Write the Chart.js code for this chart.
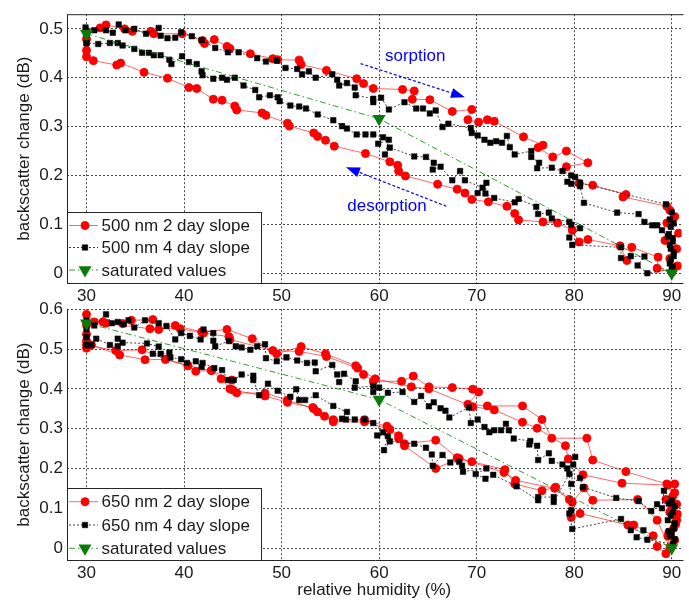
<!DOCTYPE html>
<html lang="en">
<head>
<meta charset="UTF-8">
<title>Backscatter change vs relative humidity</title>
<script src="https://cdn.jsdelivr.net/npm/chart.js"></script>
<style>
  body { margin: 0; background: #fff; }
  #wrap { position: relative; width: 689px; height: 601px; overflow: hidden; }
  canvas { position: absolute; left: 0; }
  #top500 { top: 0; }
  #bottom650 { top: 295px; }
</style>
</head>
<body>
<div id="wrap">
  <canvas id="top500" width="689" height="310" style="width:689px;height:310px"></canvas>
  <canvas id="bottom650" width="689" height="306" style="width:689px;height:306px"></canvas>
</div>
<script>
// axis ticks
const xTicks = [30, 40, 50, 60, 70, 80, 90];
const yTicks500 = [0, 0.1, 0.2, 0.3, 0.4, 0.5];
const yTicks650 = [0, 0.1, 0.2, 0.3, 0.4, 0.5, 0.6];

// saturated values (RH 30, 60, 90)
const satRH = [30, 60, 90];
const sat500 = [0.49, 0.316, 0.0];
const sat650 = [0.565, 0.373, 0.0];

// 500 nm, 2 day slope: [RH, dB] in measurement order (null = gap)
const red500 = [
  [30.0,0.456],[30.0,0.479],[30.0,0.495],[31.4,0.502],[32.0,0.508],[33.9,0.500],[34.7,0.495],[36.6,0.495],
  [36.9,0.490],[39.8,0.490],[41.9,0.476],[42.1,0.470],[43.1,0.478],[44.4,0.464],[44.7,0.460],[46.8,0.449],
  [49.1,0.439],[49.6,0.437],[51.8,0.436],[52.0,0.427],[54.6,0.415],[57.7,0.398],[58.4,0.388],[59.4,0.378],
  [62.4,0.376],[63.6,0.373],[63.4,0.356],[65.2,0.355],[67.5,0.331],[69.5,0.335],[69.1,0.314],[70.2,0.309],
  [71.1,0.314],[71.8,0.311],[74.8,0.279],[76.8,0.262],[76.3,0.257],[77.8,0.238],[79.2,0.250],[81.4,0.226],
  [79.2,0.218],[80.5,0.184],[81.9,0.180],[85.3,0.161],[85.0,0.156],[89.5,0.137],[89.8,0.129],[90.3,0.116],
  [89.5,0.103],[90.7,0.082],[89.3,0.067],[90.5,0.050],[89.8,0.030],[90.6,0.015],[90.0,0.002],
  [88.5,0.010],[88.6,0.033],[85.9,0.053],[85.4,0.026],[84.7,0.056],[81.4,0.069],[80.5,0.064],[79.8,0.088],
  [78.3,0.103],[76.8,0.105],[74.3,0.109],[73.9,0.122],[73.1,0.137],[71.2,0.146],[69.5,0.151],[68.8,0.164],
  [68.0,0.172],[66.0,0.182],[62.7,0.199],[62.0,0.209],[61.9,0.221],[61.1,0.228],[58.6,0.245],[55.4,0.260],
  [54.5,0.272],[53.7,0.280],[53.3,0.287],[50.8,0.301],[50.6,0.307],[48.4,0.323],[48.0,0.328],[45.4,0.334],
  [45.2,0.342],[43.9,0.354],[43.0,0.356],[41.3,0.378],[40.5,0.380],[38.3,0.399],[35.9,0.411],[33.5,0.430],
  [33.1,0.426],[30.7,0.435],[30.0,0.443]
];

// 500 nm, 4 day slope
const blk500 = [
  [30.0,0.471],[30.0,0.488],[29.9,0.503],[30.8,0.497],[32.0,0.497],[32.7,0.492],[33.3,0.509],[34.0,0.497],
  [34.9,0.500],[36.1,0.490],[37.4,0.502],[37.6,0.486],[38.3,0.481],[39.1,0.482],[39.7,0.493],[40.8,0.485],
  [41.8,0.477],[43.2,0.461],[44.5,0.452],[45.6,0.452],[47.5,0.440],[48.4,0.433],[49.5,0.435],[50.4,0.420],
  [51.6,0.418],[52.1,0.407],[52.8,0.413],[53.5,0.400],[55.2,0.407],[55.7,0.396],[55.9,0.384],[56.7,0.389],
  [57.5,0.380],[57.6,0.364],[59.4,0.357],[59.4,0.350],[60.2,0.359],[61.0,0.335],[62.6,0.350],[63.8,0.337],
  [64.5,0.337],[65.2,0.327],[65.8,0.333],[66.5,0.299],[67.1,0.306],[69.4,0.297],[69.5,0.287],[70.1,0.282],
  [70.8,0.273],[71.4,0.267],[72.0,0.270],[72.6,0.267],[73.1,0.281],[73.4,0.258],[73.9,0.243],[75.6,0.250],
  [75.6,0.238],[76.4,0.226],[76.2,0.215],[77.7,0.216],[78.8,0.209],[79.7,0.200],[80.1,0.197],[80.6,0.185],
  [89.4,0.141],[90.0,0.125],[89.8,0.110],[90.2,0.102],[89.9,0.095],[89.7,0.080],[90.1,0.072],[90.1,0.065],
  [89.8,0.058],[89.9,0.050],[90.2,0.043],[90.2,0.035],[89.9,0.028],[89.8,0.020],[90.1,0.014],[90.0,0.008],
  [87.5,0.000],[86.5,0.016],[87.2,0.034],[85.8,0.035],[84.8,0.031],[84.8,0.053],[79.8,0.058],[79.5,0.073],
  [80.6,0.092],[79.7,0.099],[79.5,0.105],[77.7,0.112],[77.4,0.124],[76.3,0.121],[76.1,0.136],[74.3,0.152],
  [73.9,0.145],[71.8,0.154],[70.9,0.163],[71.0,0.185],[70.1,0.164],[70.6,0.175],[68.8,0.190],[68.3,0.209],
  [67.5,0.190],[66.3,0.218],[65.5,0.212],[65.6,0.226],[64.8,0.238],[63.6,0.239],[61.1,0.257],[60.6,0.243],
  [61.0,0.273],[59.9,0.265],[60.4,0.278],[59.4,0.284],[58.6,0.284],[57.7,0.284],[56.7,0.296],[56.2,0.301],
  [55.3,0.313],[53.7,0.325],[52.5,0.337],[51.8,0.341],[50.9,0.343],[49.8,0.352],[49.6,0.360],[48.8,0.364],
  [47.7,0.360],[47.3,0.375],[46.1,0.384],[45.2,0.400],[44.4,0.396],[43.9,0.400],[43.0,0.398],[41.9,0.405],
  [41.8,0.413],[41.3,0.428],[40.5,0.432],[39.8,0.444],[38.7,0.428],[38.5,0.437],[37.6,0.446],[36.9,0.446],
  [36.4,0.451],[35.7,0.451],[34.9,0.459],[33.7,0.466],[33.2,0.471],[32.4,0.471],[31.2,0.469],[30.0,0.471],
  null,
  [79.3,0.187],[79.7,0.183],[80.6,0.178],[81.0,0.144],[84.4,0.124],[86.6,0.121],[87.2,0.105],[88.0,0.098],
  [88.5,0.098],[89.0,0.088],[89.6,0.075]
];

// 650 nm, 2 day slope
const red650 = [
  [30.0,0.502],[30.0,0.537],[30.0,0.587],[30.8,0.568],[31.7,0.568],[33.7,0.564],[34.6,0.572],[36.8,0.574],
  [37.4,0.549],[39.1,0.559],[41.8,0.543],[44.4,0.549],[47.0,0.526],[49.5,0.488],[52.0,0.506],[54.5,0.488],
  [57.6,0.458],[58.4,0.436],[59.4,0.419],[62.3,0.419],[63.5,0.432],[65.1,0.405],[67.5,0.403],[69.6,0.399],
  [70.2,0.392],[69.1,0.361],[71.1,0.357],[74.7,0.357],[76.7,0.323],[77.7,0.276],[81.3,0.276],[81.9,0.221],
  [85.3,0.192],[89.5,0.161],[90.3,0.161],[90.3,0.139],[89.4,0.122],[90.5,0.110],[89.8,0.090],[90.4,0.060],
  [89.7,0.040],[90.3,0.020],[89.4,-0.014],
  [88.5,0.004],[88.1,0.031],[86.1,0.058],[85.5,0.058],[80.6,0.087],[79.7,0.077],[79.5,0.122],[78.1,0.153],
  [76.7,0.144],[73.9,0.161],[72.9,0.197],[69.5,0.217],[68.2,0.225],[65.8,0.200],[62.6,0.257],[62.0,0.275],
  [61.1,0.298],[58.5,0.317],[55.3,0.317],[54.4,0.331],[53.7,0.342],[53.2,0.353],[50.6,0.366],[48.3,0.382],
  [45.0,0.397],[44.7,0.400],[43.8,0.425],[42.8,0.446],[41.2,0.444],[40.4,0.458],[38.1,0.474],[36.0,0.473],
  [33.4,0.485],[30.5,0.510],[30.0,0.520],
  [30.0,0.560],[32.0,0.565],[36.5,0.551],[39.6,0.551],[42.0,0.540],[44.6,0.531],[44.7,0.524],[49.1,0.496],
  [51.8,0.494],[54.6,0.481],[57.8,0.452],[59.6,0.425],[63.3,0.405],[65.1,0.400],[69.6,0.355],[71.8,0.347],
  [74.7,0.316],[76.2,0.301],[79.1,0.257],[79.4,0.224],[80.9,0.184],[84.9,0.163],[89.6,0.158],[90.1,0.130],
  [90.6,0.085],[90.0,0.100],[90.5,0.070],[90.2,0.050],[89.6,0.030],[89.8,0.000],
  [88.5,0.070],[86.5,0.122],[81.9,0.120],[81.0,0.151],[79.8,0.115],[78.0,0.150],[74.0,0.170],[72.8,0.190],
  [68.0,0.227],[65.8,0.271],[62.6,0.262],[62.0,0.282],[60.8,0.306],[58.5,0.322],[55.3,0.322],[53.3,0.350],
  [50.6,0.372],[48.3,0.389],[45.4,0.390],[44.9,0.422],[42.8,0.446],[40.4,0.458],[38.1,0.474],[35.7,0.498],
  [33.0,0.496],[30.0,0.510]
];

// 650 nm, 4 day slope
const blk650 = [
  [30.0,0.510],[30.0,0.530],[30.0,0.550],[30.0,0.572],[30.8,0.559],[32.0,0.587],[32.6,0.565],[33.2,0.568],
  [33.8,0.562],[34.3,0.572],[34.9,0.554],[36.0,0.572],[37.4,0.565],[38.2,0.558],[39.1,0.524],[39.7,0.540],
  [40.6,0.533],[41.7,0.524],[42.0,0.549],[43.0,0.540],[43.0,0.521],[43.2,0.507],[44.6,0.520],[45.3,0.507],
  [45.9,0.504],[46.8,0.498],[47.5,0.507],[48.3,0.512],[48.4,0.477],[49.5,0.469],[50.5,0.479],[51.6,0.471],
  [52.6,0.465],[53.4,0.466],[53.5,0.444],[55.2,0.460],[55.7,0.436],[55.9,0.417],[56.4,0.438],[57.6,0.419],
  [57.5,0.403],[59.4,0.407],[59.4,0.392],[60.0,0.403],[60.9,0.390],[62.4,0.392],[63.6,0.367],[64.3,0.382],
  [65.1,0.356],[65.6,0.366],[66.3,0.351],[66.8,0.345],[67.2,0.328],[69.2,0.353],[69.4,0.314],[70.1,0.323],
  [70.8,0.304],[71.3,0.291],[71.8,0.296],[72.5,0.296],[73.0,0.312],[73.3,0.296],[73.8,0.275],[75.5,0.269],
  [75.4,0.260],[76.2,0.257],[76.3,0.221],[77.4,0.238],[77.7,0.219],[78.8,0.210],[79.3,0.200],[79.9,0.210],
  [80.1,0.229],[79.7,0.161],[80.6,0.176],[80.9,0.153],[84.3,0.126],[86.6,0.118],[87.9,0.093],[88.5,0.110],
  [89.0,0.100],[89.2,0.144],[90.0,0.120],[89.7,0.112],[90.3,0.105],[90.1,0.090],[89.9,0.082],[89.6,0.070],
  [90.3,0.062],[90.2,0.050],[89.7,0.042],[90.0,0.036],[89.8,0.030],[90.3,0.022],[90.1,0.010],
  [87.5,0.021],[86.4,0.027],[87.1,0.045],[85.8,0.045],[84.8,0.073],[79.8,0.048],[79.5,0.087],[79.7,0.095],
  [79.5,0.186],[77.9,0.116],[77.9,0.128],[76.3,0.128],[76.3,0.120],[74.1,0.155],[71.7,0.184],[70.9,0.174],
  [69.9,0.186],[71.0,0.200],[68.6,0.192],[68.5,0.207],[68.2,0.217],[67.3,0.215],[66.5,0.234],[65.5,0.207],
  [65.4,0.235],[64.8,0.252],[63.6,0.262],[61.1,0.268],[60.5,0.246],[60.9,0.281],[59.8,0.283],[60.4,0.291],
  [59.4,0.314],[58.5,0.323],[57.5,0.323],[56.6,0.323],[56.2,0.325],[56.7,0.342],[55.3,0.357],[53.5,0.384],
  [52.4,0.372],[51.8,0.372],[51.5,0.399],[50.9,0.380],[49.6,0.395],[48.6,0.413],[47.7,0.384],[47.1,0.422],
  [47.1,0.433],[45.9,0.436],[45.1,0.422],[44.5,0.422],[43.9,0.447],[43.1,0.452],[41.9,0.465],[41.8,0.455],
  [41.2,0.469],[40.3,0.465],[39.7,0.474],[38.6,0.479],[38.5,0.491],[37.6,0.488],[36.8,0.488],[37.4,0.506],
  [36.2,0.514],[33.7,0.516],[33.2,0.526],[33.2,0.507],[32.4,0.510],[31.0,0.526],[30.5,0.510],[30.0,0.510]
];

const FONT = "'Liberation Sans', Arial, sans-serif";
const INK = '#1a1a1a';

function toPoints(list) {
  return list.map(p => p ? { x: p[0], y: p[1] } : { x: null, y: null });
}

const redStyle = {
  showLine: true, borderColor: 'rgba(255,0,0,0.6)', borderWidth: 1,
  pointStyle: 'circle', pointRadius: 4, pointBorderWidth: 1,
  pointBackgroundColor: '#ff0000', pointBorderColor: '#ff0000', order: 3
};
const blackStyle = {
  showLine: true, borderColor: 'rgba(0,0,0,0.75)', borderWidth: 1, borderDash: [2, 2],
  pointStyle: 'rect', pointRadius: 3.9, pointBorderWidth: 0.5,
  pointBackgroundColor: '#000', pointBorderColor: '#000', order: 2
};
const greenStyle = {
  showLine: true, borderColor: 'rgba(0,128,0,0.8)', borderWidth: 1, borderDash: [6, 3, 1.5, 3],
  pointStyle: 'triangle', pointRotation: 180, pointRadius: 7.5, pointBorderWidth: 0,
  pointBackgroundColor: '#0a7a0a', pointBorderColor: '#0a7a0a', order: 1
};

// axes box, legend and sorption/desorption arrows
const framePlugin = {
  id: 'frame',
  afterDraw(chart, args, opts) {
    const ctx = chart.ctx;
    const a = chart.chartArea;
    const xs = chart.scales.x, ys = chart.scales.y;
    ctx.save();

    // axes lines
    ctx.strokeStyle = '#262626';
    ctx.lineWidth = 1;
    ctx.setLineDash([]);
    ctx.beginPath();
    if (opts.topLine) {
      ctx.moveTo(a.left + 0.5, a.top + 0.5);
      ctx.lineTo(a.right + 2, a.top + 0.5);
    }
    ctx.moveTo(a.left + 0.5, a.top);
    ctx.lineTo(a.left + 0.5, a.bottom + 0.5);
    ctx.lineTo(a.right + 2, a.bottom + 0.5);
    ctx.stroke();

    // arrows
    (opts.arrows || []).forEach(ar => {
      const x0 = xs.getPixelForValue(ar.from[0]), y0 = ys.getPixelForValue(ar.from[1]);
      const x1 = xs.getPixelForValue(ar.to[0]), y1 = ys.getPixelForValue(ar.to[1]);
      const ang = Math.atan2(y1 - y0, x1 - x0);
      const head = 14, half = 5;
      const bx = x1 - head * Math.cos(ang), by = y1 - head * Math.sin(ang);
      ctx.strokeStyle = '#0000ff';
      ctx.fillStyle = '#0000ff';
      ctx.lineWidth = 1.2;
      ctx.setLineDash([3, 2]);
      ctx.beginPath();
      ctx.moveTo(x0, y0);
      ctx.lineTo(bx, by);
      ctx.stroke();
      ctx.setLineDash([]);
      ctx.beginPath();
      ctx.moveTo(x1, y1);
      ctx.lineTo(bx + half * Math.sin(ang), by - half * Math.cos(ang));
      ctx.lineTo(bx - half * Math.sin(ang), by + half * Math.cos(ang));
      ctx.closePath();
      ctx.fill();
    });
    (opts.notes || []).forEach(n => {
      ctx.fillStyle = '#0000ff';
      ctx.font = '17px ' + FONT;
      ctx.textAlign = 'center';
      ctx.textBaseline = 'middle';
      ctx.fillText(n.text, xs.getPixelForValue(n.at[0]), ys.getPixelForValue(n.at[1]));
    });

    // legend box in the lower left corner
    const lg = opts.legend;
    if (lg) {
      const top = a.bottom - lg.height;
      ctx.fillStyle = '#fff';
      ctx.fillRect(a.left, top, lg.width, lg.height);
      ctx.strokeStyle = '#262626';
      ctx.lineWidth = 1;
      ctx.strokeRect(a.left + 0.5, top + 0.5, lg.width, lg.height);
      lg.labels.forEach((text, i) => {
        const ds = chart.data.datasets[lg.order[i]];
        const y = a.bottom - lg.rows[i];
        ctx.strokeStyle = ds.borderColor;
        ctx.lineWidth = ds.borderWidth;
        ctx.setLineDash(ds.borderDash || []);
        ctx.beginPath();
        ctx.moveTo(a.left + 2, y);
        ctx.lineTo(a.left + 31, y);
        ctx.stroke();
        ctx.setLineDash([]);
        ctx.fillStyle = ds.pointBackgroundColor;
        ctx.strokeStyle = ds.pointBorderColor;
        ctx.lineWidth = ds.pointBorderWidth;
        Chart.helpers.drawPoint(ctx, {
          pointStyle: ds.pointStyle, rotation: ds.pointRotation || 0,
          radius: ds.pointRadius, borderWidth: ds.pointBorderWidth
        }, a.left + 18, y);
        ctx.fillStyle = INK;
        ctx.font = '17px ' + FONT;
        ctx.textAlign = 'left';
        ctx.textBaseline = 'middle';
        ctx.fillText(text, a.left + 34.5, y + 1);
      });
    }
    ctx.restore();
  }
};

function tickLabel(v) {
  return v === 0 ? '0' : v.toFixed(1);
}

function makeChart(id, cfg) {
  return new Chart(document.getElementById(id), {
    type: 'scatter',
    data: {
      datasets: [
        Object.assign({ label: cfg.labels[0], data: toPoints(cfg.red) }, redStyle),
        Object.assign({ label: cfg.labels[1], data: toPoints(cfg.black) }, blackStyle),
        Object.assign({ label: cfg.labels[2], data: satRH.map((x, i) => ({ x: x, y: cfg.sat[i] })) }, greenStyle)
      ]
    },
    options: {
      responsive: false,
      animation: false,
      spanGaps: false,
      layout: { padding: { top: cfg.padTop, right: 1, left: 0, bottom: 0 } },
      plugins: {
        legend: { display: false },
        tooltip: { enabled: false },
        frame: {
          topLine: cfg.topLine,
          arrows: cfg.arrows,
          notes: cfg.notes,
          legend: { labels: cfg.labels, order: [0, 1, 2], width: 194, height: cfg.legendHeight, rows: cfg.rows }
        }
      },
      scales: {
        x: {
          type: 'linear',
          min: 28, max: 91,
          afterBuildTicks: s => { s.ticks = xTicks.map(v => ({ value: v })); },
          afterFit: s => { s.height = cfg.xHeight; },
          grid: { color: 'rgba(40,40,40,0.85)', lineWidth: 1, drawTicks: false },
          border: { display: false, dash: [2, 2] },
          ticks: { color: INK, padding: 3, font: { size: 17, family: FONT }, maxRotation: 0, autoSkip: false },
          title: {
            display: !!cfg.xTitle, text: cfg.xTitle || '', color: INK,
            font: { size: 17, family: FONT }, padding: { top: 0, bottom: 0 }
          }
        },
        y: {
          type: 'linear',
          min: cfg.yMin, max: cfg.yMax,
          afterBuildTicks: s => { s.ticks = cfg.yTicks.map(v => ({ value: v })); },
          afterFit: s => { s.width = 67; },
          grid: { color: 'rgba(40,40,40,0.85)', lineWidth: 1, drawTicks: false },
          border: { display: false, dash: [2, 2] },
          ticks: { color: INK, padding: 4, font: { size: 17, family: FONT }, callback: tickLabel },
          title: {
            display: true, text: 'backscatter change (dB)', color: INK,
            font: { size: 17, family: FONT }, padding: { top: 14, bottom: 0 }
          }
        }
      }
    },
    plugins: [framePlugin]
  });
}

makeChart('top500', {
  labels: ['500 nm 2 day slope', '500 nm 4 day slope', 'saturated values'],
  red: red500, black: blk500, sat: sat500,
  yMin: -0.02, yMax: 0.53, yTicks: yTicks500,
  padTop: 13, xHeight: 27, topLine: true,
  legendHeight: 71, rows: [57.5, 35.5, 13],
  arrows: [
    { from: [58.1, 0.429], to: [68.8, 0.360] },
    { from: [66.9, 0.137], to: [56.6, 0.217] }
  ],
  notes: [
    { text: 'sorption', at: [63.7, 0.443] },
    { text: 'desorption', at: [60.8, 0.137] }
  ]
});

makeChart('bottom650', {
  labels: ['650 nm 2 day slope', '650 nm 4 day slope', 'saturated values'],
  red: red650, black: blk650, sat: sat650,
  yMin: -0.03, yMax: 0.6, yTicks: yTicks650,
  padTop: 10, xHeight: 41, topLine: false, xTitle: 'relative humidity (%)',
  legendHeight: 72, rows: [58.3, 35, 11.7],
  arrows: [], notes: []
});
</script>
</body>
</html>
